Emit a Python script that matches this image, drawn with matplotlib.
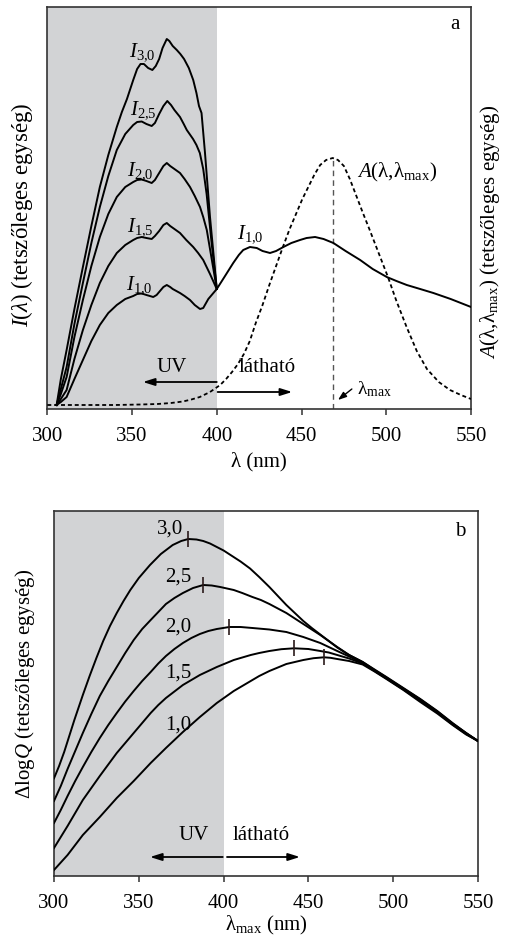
import matplotlib
matplotlib.use("Agg")
import matplotlib.pyplot as plt

plt.rcParams['font.family'] = ['Liberation Serif', 'DejaVu Serif']
plt.rcParams['mathtext.fontset'] = 'custom'
plt.rcParams['mathtext.rm'] = 'Liberation Serif'
plt.rcParams['mathtext.it'] = 'Liberation Serif:italic'
plt.rcParams['mathtext.bf'] = 'Liberation Serif:bold'

# ---------------- data: panel a ----------------
xticks = [300, 350, 400, 450, 500, 550]

I30_x = [305.5, 308, 311.4, 316, 321, 326, 331, 336, 341, 344, 347, 350.7, 353, 355, 357, 359.5, 362, 364, 366, 368, 370.5,
         372, 374, 376.4, 378.5, 380.7, 383.5, 386.1, 388, 389.5, 391, 393, 396, 400]
I30_y = [4, 30, 59, 100, 142, 183, 222, 254, 282, 297, 310, 329, 340, 345, 345, 341, 339, 343, 350, 361, 370,
         368, 363, 359, 355, 350, 341, 329, 316, 303, 296, 257, 192, 120]

I25_x = [305.5, 308, 311.4, 316, 321, 326, 331, 336, 341, 346, 350.7, 353, 355.7, 358.5, 361.6, 363.5, 366, 368.5, 370.8,
         373, 375, 378.3, 380.5, 382.3, 386, 388, 390, 392, 394, 397, 400]
I25_y = [4, 20, 42, 85, 126, 166, 202, 233, 259, 275, 284, 287, 287.5, 285, 283, 286, 295, 303, 308,
         304, 299, 292, 285, 279, 270, 264, 256, 240, 215, 165, 120]

I20_x = [305.5, 308, 311.4, 316, 321, 326, 331, 336, 341, 346, 350.7, 353, 355.7, 358.5, 361.6, 363.5, 366, 368.5, 370.5,
         372.5, 375, 378.3, 381, 384.2, 387, 390.1, 392, 394.1, 397, 400]
I20_y = [4, 15, 32, 72, 109, 143, 172, 195, 212, 222, 227, 229, 229.5, 228, 226, 229, 236, 243, 246,
         243, 240, 236, 230, 222, 213, 202, 192, 179, 150, 120]

I15_x = [305.5, 308, 311.4, 316, 321, 326, 331, 336, 341, 346, 350.7, 353, 355.7, 358.5, 361.6, 363.5, 366, 368.5, 370.5,
         372.5, 375, 378.3, 382, 386.1, 389, 392, 396, 400]
I15_y = [4, 10, 19, 50, 79, 104, 126, 143, 156, 164, 169, 171, 172, 171, 170, 173, 178, 184, 186,
         183, 180, 176, 169, 162, 156, 149, 135, 120]

I10_x = [305.5, 308, 311.4, 316, 321, 326, 331, 336, 341, 346, 350.7, 353, 355.7, 358.5, 362.5, 364.5, 366, 368.5, 370.5,
         372.5, 374, 378.3, 381, 384.2, 387, 390.1, 392, 395, 400, 404.5, 409.7, 413, 415.6, 419.6, 423.6, 427, 431.4,
         435, 439.3, 444, 449.1, 453, 458, 463, 468.8, 476, 484.6, 492, 500.3, 506, 512.1, 520, 527.8, 538, 550]
I10_y = [4, 7, 12, 30, 49, 68, 84, 96, 104, 110, 113, 115, 115.5, 114, 112, 114, 117, 122, 124,
         122, 120, 116, 113, 109, 104, 100, 101, 110, 120, 132, 146, 154, 159, 162, 161, 158, 156,
         158, 162, 166, 169, 171, 172, 170, 166, 158, 149, 140, 132, 128, 124, 120, 116, 110, 102]

A_x = [300, 320, 340, 355, 365, 373, 380, 385, 390, 396, 402, 405.5, 409, 412.5, 416, 419.5, 423, 427, 431, 435, 439,
       443, 447, 450.5, 454, 457.5, 461, 464.5, 468.4, 471.5, 475, 478.5, 482.6, 486, 490, 495.5, 501, 506, 512, 518,
       524, 531, 537.6, 544, 550]
A_y = [4, 4, 4, 4.5, 5, 6, 7.5, 9.5, 12, 17, 24, 30, 37, 45, 55, 68, 86, 104, 124, 143, 162,
       180, 196, 210, 222, 234, 244, 249, 251, 249, 243, 230, 212, 197, 180, 156, 132, 108, 82, 58,
       40, 27, 19, 14, 10]
lam_max = 468.4
A_peak = 251

I_labels = [r'$I_{\mathrm{3{,}0}}$', r'$I_{\mathrm{2{,}5}}$', r'$I_{\mathrm{2{,}0}}$', r'$I_{\mathrm{1{,}5}}$', r'$I_{\mathrm{1{,}0}}$']
I_label_x = [356, 356.5, 355, 355, 354.4]
I_label_y = [357, 299, 238, 182, 124]

# ---------------- data: panel b ----------------
b30_x = [300, 303, 306, 309, 312, 317, 321, 325, 329, 333, 337, 341, 345, 350, 356.6, 363, 370, 375, 379.2,
         384, 388, 392, 396, 400, 405, 410, 415.6, 421, 427, 432, 437, 442, 447, 452, 457, 462, 467, 474, 482, 489,
         496, 506, 516, 526, 535, 543, 550]
b30_y = [97.7, 110, 124, 140, 156, 181, 200, 218, 235, 250, 263, 275, 286, 298, 311, 322, 331, 335, 337,
         336.5, 335, 332.5, 329, 325.5, 320, 314.5, 307.5, 299, 289, 280, 271, 263, 255, 248, 241.5, 235, 229, 221, 214, 206.5,
         199, 188, 177, 165, 153, 143, 135]

b25_x = [300, 304, 308, 312.5, 317, 322, 327, 332, 337, 342, 347, 352, 357, 361.5, 366, 371, 376, 382, 388, 393, 398,
         406, 411, 417, 422, 427, 432, 437, 442, 447, 452, 457, 462, 467, 474, 482, 489, 496, 506, 516, 526, 535, 543, 550]
b25_y = [75, 90, 107, 125, 143, 162, 180, 195, 209, 223, 236, 247, 256, 264, 272, 278, 283, 288, 291, 290.5, 289,
         286, 283, 279, 276, 272, 267.5, 263, 257.5, 252, 246.5, 241, 235, 228.5, 221, 214, 206, 198.5, 187.5, 176.5, 164.5, 152.5, 143, 135]

b20_x = [300, 304, 308, 312.5, 317, 322, 327, 332, 337, 342, 347, 352, 357, 361.5, 366, 371, 376, 381, 386, 391, 396,
         403.4, 410, 417, 427, 437, 442, 447, 452, 457, 462, 467, 474, 482, 489, 496, 506, 516, 526, 535, 543, 550]
b20_y = [53, 66, 80, 95, 109, 124, 138, 151, 163, 174.5, 185, 195, 204, 212.5, 220, 227, 233, 238, 242, 245, 247,
         249, 249, 248, 246.5, 244, 241.5, 239, 236, 233, 229, 225, 219.5, 213, 205.5, 198, 187, 176, 164, 152, 142.5, 135]

b15_x = [300, 304, 308, 312.5, 317, 322, 327, 332, 337, 342, 347, 352, 357, 361.5, 366, 371, 376, 381, 386, 391, 396,
         401, 406, 411, 416, 421, 427, 434, 441.5, 450, 457, 462, 467, 474, 482, 489, 496, 506, 516, 526, 535, 543, 550]
b15_y = [28, 39, 50, 63, 76, 88, 100, 111.5, 123, 133, 143, 153, 163, 171, 178, 184.5, 191, 196, 201, 205, 209,
         212.5, 216, 218.5, 221, 223, 225, 226.8, 227.7, 227, 225, 223.5, 221, 217.5, 212.5, 205, 197.5, 186.5, 175, 163.5, 151.5, 142, 135]

b10_x = [300, 304, 308, 312.5, 317, 322, 327, 332, 337, 342, 347, 352, 357, 361.5, 366, 371, 376, 381, 386, 391, 396,
         401, 406, 411, 416, 421, 427, 432, 437, 442, 447, 453, 459.2, 463, 467, 474, 482, 489, 496, 506, 516, 526, 535, 543, 550]
b10_y = [6, 13.5, 21, 31, 41, 50, 59, 68.5, 78, 86.5, 95, 104, 113, 120.5, 128, 136, 144, 151.5, 159, 166, 173,
         179, 185, 190, 195, 200, 205, 208.5, 212, 214, 216, 217.8, 218.7, 218.2, 217, 215, 211.5, 204.5, 197, 186, 174, 162.5, 151, 141.5, 135]

b_peak_x = [379.2, 388, 403.4, 441.5, 459.2]
b_peak_y = [337, 291, 249, 227.7, 218.7]

b_labels = ['3,0', '2,5', '2,0', '1,5', '1,0']
b_label_x = [368.4, 373.3, 373.3, 373.3, 373.3]
b_label_y = [347, 299, 249, 203, 151]

# ---------------- figure ----------------
W, H = 505, 940
fig = plt.figure(figsize=(W / 100, H / 100), dpi=100)
ax1 = fig.add_axes([47.3 / W, 1 - 409 / H, (471 - 47.3) / W, (409 - 7.3) / H])
ax2 = fig.add_axes([54 / W, 1 - 876 / H, (478 - 54) / W, (876 - 510.7) / H])

gray = '#d2d3d5'
lw = 1.4
fs = 15

for ax in (ax1, ax2):
    ax.axvspan(300, 400, color=gray, lw=0, zorder=0)
    ax.set_xlim(300, 550)
    ax.set_xticks(xticks)
    ax.set_yticks([])
    ax.tick_params(axis='x', direction='out', length=4.5, width=1.1, pad=8.5, labelsize=fs, color='#333333')
    for s in ax.spines.values():
        s.set_linewidth(1.2)
        s.set_color('#333333')

# panel a
ax1.set_ylim(0, 401.7)
for xs, ys in [(I30_x, I30_y), (I25_x, I25_y), (I20_x, I20_y), (I15_x, I15_y), (I10_x, I10_y)]:
    ax1.plot(xs, ys, color='black', lw=lw, solid_joinstyle='round', zorder=3)
ax1.plot(A_x, A_y, color='black', lw=1.3, linestyle=(0, (2.2, 1.6)), zorder=3)
ax1.plot([lam_max, lam_max], [0, A_peak], color='#555555', lw=1.0, linestyle=(0, (4, 3)), zorder=2)

for lab, x, y in zip(I_labels, I_label_x, I_label_y):
    ax1.text(x, y, lab, fontsize=fs, ha='center', va='center', zorder=4)
ax1.text(419.6, 175, r'$I_{\mathrm{1{,}0}}$', fontsize=fs, ha='center', va='center')
ax1.text(482.7, 237, r'$A(\mathrm{\lambda{,}\lambda_{max}})$', fontsize=fs, ha='left', va='center')

arrow_kw = dict(arrowstyle='-|>,head_length=0.7,head_width=0.22', lw=1.3, color='black', shrinkA=0, shrinkB=0)
ax1.annotate('', xy=(356.4, 27), xytext=(400, 27), arrowprops=arrow_kw)
ax1.annotate('', xy=(444.5, 17), xytext=(400.5, 17), arrowprops=arrow_kw)
ax1.text(373.6, 41, 'UV', fontsize=fs, ha='center', va='center')
ax1.text(429.7, 41, 'látható', fontsize=fs, ha='center', va='center')
ax1.annotate('', xy=(471.5, 9), xytext=(479.7, 20),
             arrowprops=dict(arrowstyle='-|>,head_length=0.5,head_width=0.18', lw=1.0, color='black', shrinkA=0, shrinkB=0))
ax1.text(482.5, 20, r'$\mathrm{\lambda_{max}}$', fontsize=fs - 1, ha='left', va='center')
ax1.text(0.962, 0.956, 'a', transform=ax1.transAxes, fontsize=fs, ha='center', va='center')

ax1.set_xlabel('λ (nm)', fontsize=fs, labelpad=4)
ax1.set_ylabel(r'$I(\lambda)$ (tetszőleges egység)', fontsize=16.5)
ax1.yaxis.set_label_coords(-0.03, 0.483)
ax1.text(1.046, 0.44, r'$A(\mathrm{\lambda{,}\lambda_{max}})$ (tetszőleges egység)', transform=ax1.transAxes,
         fontsize=fs, rotation=90, ha='center', va='center')

# panel b
ax2.set_ylim(0, 365.3)
for xs, ys in [(b30_x, b30_y), (b25_x, b25_y), (b20_x, b20_y), (b15_x, b15_y), (b10_x, b10_y)]:
    ax2.plot(xs, ys, color='black', lw=lw, solid_joinstyle='round', zorder=3)
ax2.plot(b_peak_x, b_peak_y, linestyle='none', marker='|', markersize=11, markeredgewidth=1.2, color='#2a1a1a', zorder=4)
for lab, x, y in zip(b_labels, b_label_x, b_label_y):
    ax2.text(x, y, lab, fontsize=fs, ha='center', va='center', zorder=4)

ax2.annotate('', xy=(356.6, 19), xytext=(399.5, 19), arrowprops=arrow_kw)
ax2.annotate('', xy=(445, 19), xytext=(402, 19), arrowprops=arrow_kw)
ax2.text(382.5, 41, 'UV', fontsize=fs, ha='center', va='center')
ax2.text(422, 41, 'látható', fontsize=fs, ha='center', va='center')
ax2.text(0.9575, 0.942, 'b', transform=ax2.transAxes, fontsize=fs, ha='center', va='center')

ax2.set_xlabel(r'$\mathrm{\lambda_{max}}$ (nm)', fontsize=fs, labelpad=1)
ax2.set_ylabel(r'$\mathrm{\Delta log}Q$ (tetszőleges egység)', fontsize=fs)
ax2.yaxis.set_label_coords(-0.04, 0.526)

fig.savefig('out.png', dpi=100)
